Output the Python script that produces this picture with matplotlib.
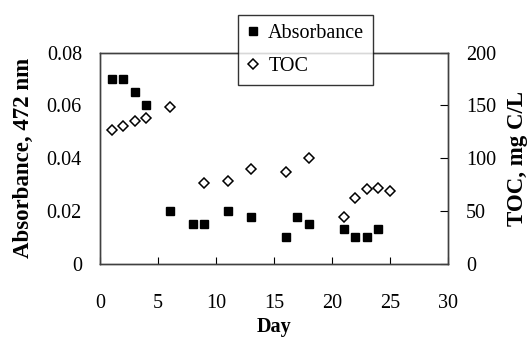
import matplotlib.pyplot as plt
import numpy as np

plt.rcParams['font.family'] = ['Liberation Serif', 'DejaVu Serif']

# dados
dias_abs = [1, 2, 3, 4, 6, 8, 9, 11, 13, 16, 17, 18, 21, 22, 23, 24]
absorbancia = [0.070, 0.070, 0.065, 0.060, 0.020, 0.015, 0.015, 0.020, 0.0175,
               0.010, 0.0175, 0.015, 0.013, 0.010, 0.010, 0.013]
dias_toc = [1, 2, 3, 4, 6, 9, 11, 13, 16, 18, 21, 22, 23, 24, 25]
toc = [126.5, 130.5, 135, 138, 148, 76.5, 78, 89.5, 87, 100, 44.5, 62, 70.5, 72, 69]

fs = 14.5

fig = plt.figure(figsize=(5.28, 3.39), dpi=100)
ax = fig.add_axes([0.1894, 0.2227, 0.6591, 0.6224])
ax2 = ax.twinx()

l1, = ax.plot(dias_abs, absorbancia, 's', color='black', markersize=6, label='Absorbance')
l2, = ax2.plot(dias_toc, toc, 'D', markerfacecolor='white', markeredgecolor='black',
               markeredgewidth=1.1, markersize=5, label='TOC')

ax.set_xlim(0, 30)
ax.set_ylim(0, 0.08)
ax2.set_ylim(0, 200)
ax.set_xticks(np.arange(0, 31, 5))
ax.set_yticks([0, 0.02, 0.04, 0.06, 0.08])
ax.set_yticklabels(['0', '0.02', '0.04', '0.06', '0.08'])
ax2.set_yticks([0, 50, 100, 150, 200])

ax.tick_params(axis='x', direction='in', length=5, labelsize=fs, pad=22)
ax.tick_params(axis='y', length=0, labelsize=fs, pad=13)
ax2.tick_params(axis='y', direction='in', length=5.5, labelsize=fs, pad=13)

for a in (ax, ax2):
    for s in a.spines.values():
        s.set_color('#404040')
        s.set_linewidth(1.0)

ax.set_xlabel('Day', fontsize=fs, fontweight='bold', labelpad=3)
ax.set_ylabel('Absorbance, 472 nm', fontsize=16.5, fontweight='bold', labelpad=9)
ax2.set_ylabel('TOC, mg C/L', fontsize=16.5, fontweight='bold', labelpad=8)

leg = fig.legend(handles=[l1, l2], loc='upper left', bbox_to_anchor=(238/528, 1 - 15/339),
                 fontsize=fs, frameon=True, fancybox=False, edgecolor='black',
                 handlelength=0.6, handletextpad=0.45, borderpad=0.45, labelspacing=0.7,
                 borderaxespad=0)
leg.get_frame().set_linewidth(1.0)

fig.savefig('out.png', dpi=100)
